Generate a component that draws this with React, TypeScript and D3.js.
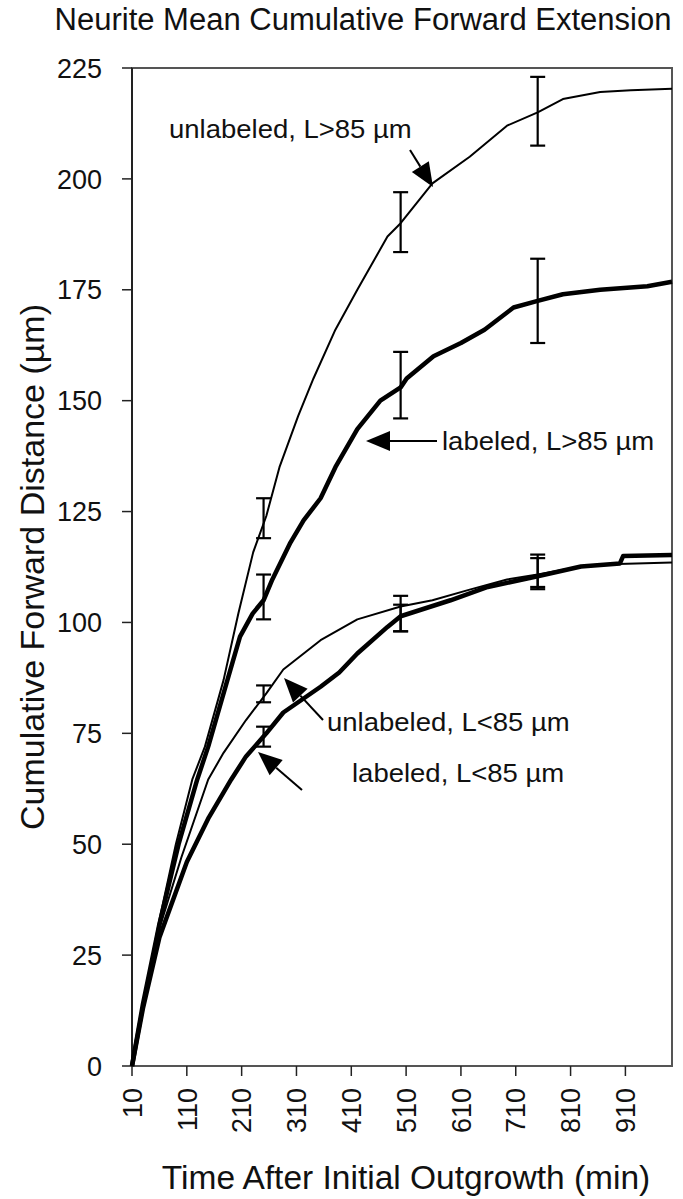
import React from 'react';
import * as d3 from 'd3';

type P = [number, number];

// Time (min), cumulative forward distance (µm)
const unlabeledLong: P[] = [
  [10, 0], [30, 14], [60, 33], [90, 50], [120, 64.6], [143, 72], [177, 87], [204, 102],
  [231, 115.8], [255, 124], [279, 135], [313, 146.5], [341, 155], [381, 166], [421, 175],
  [476, 187], [500, 190], [558, 199], [626, 205], [694, 212], [750, 215], [796, 218],
  [864, 219.6], [920, 220], [995, 220.3],
];
const labeledLong: P[] = [
  [10, 0], [30, 14], [60, 32], [95, 50], [129, 64.6], [149, 72], [184, 87], [207, 96.8],
  [230, 102], [250, 105], [266, 109.7], [299, 118], [323, 123], [354, 128], [381, 135],
  [421, 143.6], [463, 150], [500, 153], [511, 155], [560, 160], [610, 163], [653, 166],
  [706, 171], [750, 172.5], [796, 174], [864, 175], [950, 175.8], [995, 176.8],
];
const unlabeledShort: P[] = [
  [10, 0], [30, 14], [60, 31], [100, 47], [149, 64.6], [177, 70.6], [218, 78], [255, 84],
  [286, 89.4], [354, 96], [421, 100.7], [500, 103.6], [558, 105], [626, 107.4], [694, 109.7],
  [750, 110.8], [829, 112.6], [897, 113.2], [995, 113.5],
];
const labeledShort: P[] = [
  [10, 0], [30, 13], [60, 29], [110, 46], [150, 56], [191, 64.6], [218, 69.8], [255, 75],
  [286, 79.7], [354, 85.5], [388, 88.7], [421, 93], [476, 99], [500, 101.4], [591, 105],
  [659, 108], [750, 110.4], [829, 112.6], [900, 113.3], [906, 115], [995, 115.2],
];

// error bars: [time, low, high]
const unlabeledLongErr: [number, number, number][] = [[250, 119, 128], [500, 183.5, 197], [750, 207.5, 223]];
const labeledLongErr: [number, number, number][] = [[250, 100.7, 110.8], [500, 146, 161], [750, 163, 182]];
const unlabeledShortErr: [number, number, number][] = [[250, 82, 85.8], [500, 98, 106], [750, 108, 115.3]];
const labeledShortErr: [number, number, number][] = [[250, 72, 76.5], [500, 98, 104], [750, 107.5, 114.5]];

const xTicks = [10, 110, 210, 310, 410, 510, 610, 710, 810, 910];
const yTicks = [0, 25, 50, 75, 100, 125, 150, 175, 200, 225];

const title = 'Neurite Mean Cumulative Forward Extension';
const xTitle = 'Time After Initial Outgrowth (min)';
const yTitle = 'Cumulative Forward Distance (\u00b5m)';

const FONT = '"Liberation Sans", Arial, Helvetica, sans-serif';

function Arrow({ tail, tip }: { tail: P; tip: P }) {
  const dx = tip[0] - tail[0];
  const dy = tip[1] - tail[1];
  const len = Math.hypot(dx, dy);
  const ux = dx / len, uy = dy / len;
  const hl = 24, hw = 10;
  const bx = tip[0] - ux * hl, by = tip[1] - uy * hl;
  const px = -uy, py = ux;
  const pts = [
    [tip[0], tip[1]],
    [bx + px * hw, by + py * hw],
    [bx - px * hw, by - py * hw],
  ].map((p) => p.join(',')).join(' ');
  return (
    <g>
      <line x1={tail[0]} y1={tail[1]} x2={bx} y2={by} stroke="#000" strokeWidth={2} />
      <polygon points={pts} fill="#000" />
    </g>
  );
}

export default function App() {
  const W = 683, H = 1199;
  const x = d3.scaleLinear().domain([10, 995]).range([132, 672]);
  const y = d3.scaleLinear().domain([0, 225]).range([1066, 68]);
  const line = d3.line<P>().x((d) => x(d[0])).y((d) => y(d[1]));

  const series = [
    { data: unlabeledLong, err: unlabeledLongErr, w: 2 },
    { data: labeledLong, err: labeledLongErr, w: 4.5 },
    { data: unlabeledShort, err: unlabeledShortErr, w: 2 },
    { data: labeledShort, err: labeledShortErr, w: 4.5 },
  ];

  const annos = [
    { text: 'unlabeled, L>85 \u00b5m', tx: 169, ty: 138, tail: [410, 150] as P, tip: [433, 187] as P },
    { text: 'labeled, L>85 \u00b5m', tx: 442, ty: 450, tail: [437, 441] as P, tip: [366, 441] as P },
    { text: 'unlabeled, L<85 \u00b5m', tx: 327, ty: 731, tail: [323, 720] as P, tip: [284, 678] as P },
    { text: 'labeled, L<85 \u00b5m', tx: 352, ty: 782, tail: [302, 790] as P, tip: [258, 752] as P },
  ];

  const [x0, x1] = x.range();
  const [y0, y1] = y.range();

  return (
    <svg width={W} height={H} viewBox={`0 0 ${W} ${H}`}
      style={{ position: 'absolute', left: 0, top: 0, background: '#fff' }}
      fontFamily={FONT}>
      <rect x={0} y={0} width={W} height={H} fill="#fff" />
      {/* title */}
      <text x={363} y={30} fontSize={31} textAnchor="middle" fill="#111">{title}</text>

      {/* frame */}
      <rect x={x0} y={y1} width={x1 - x0} height={y0 - y1} fill="none" stroke="#555" strokeWidth={2} />
      <line x1={x0} y1={y1} x2={x0} y2={y0} stroke="#222" strokeWidth={2} />

      {/* y ticks */}
      {yTicks.map((t) => (
        <g key={'y' + t}>
          <line x1={x0 - 10} x2={x0} y1={y(t)} y2={y(t)} stroke="#222" strokeWidth={1.5} />
          <text x={x0 - 30} y={y(t)} dy="0.36em" fontSize={27} textAnchor="end" fill="#111">{t}</text>
        </g>
      ))}
      {/* x ticks */}
      {xTicks.map((t) => (
        <g key={'x' + t}>
          <line x1={x(t)} x2={x(t)} y1={y0} y2={y0 + 10} stroke="#222" strokeWidth={1.5} />
          <text transform={`translate(${x(t)},${y0 + 22}) rotate(-90)`} dy="0.36em" fontSize={27}
            textAnchor="end" fill="#111">{t}</text>
        </g>
      ))}

      {/* axis titles */}
      <text x={406} y={1189} fontSize={33.5} textAnchor="middle" fill="#111">{xTitle}</text>
      <text transform={`translate(44,${(y0 + y1) / 2}) rotate(-90)`} fontSize={34} textAnchor="middle" fill="#111">{yTitle}</text>

      {/* series */}
      {series.map((s, i) => (
        <g key={'s' + i}>
          <path d={line(s.data) || ''} fill="none" stroke="#000" strokeWidth={s.w} strokeLinejoin="round" />
          {s.err.map(([t, lo, hi], j) => (
            <g key={j} stroke="#000" strokeWidth={2.2}>
              <line x1={x(t)} x2={x(t)} y1={y(lo)} y2={y(hi)} />
              <line x1={x(t) - 7.5} x2={x(t) + 7.5} y1={y(lo)} y2={y(lo)} />
              <line x1={x(t) - 7.5} x2={x(t) + 7.5} y1={y(hi)} y2={y(hi)} />
            </g>
          ))}
        </g>
      ))}

      {/* annotations */}
      {annos.map((a, i) => (
        <g key={'a' + i}>
          <Arrow tail={a.tail} tip={a.tip} />
          <text transform={`translate(${a.tx},${a.ty}) scale(1.1,1)`} fontSize={25} fill="#111">{a.text}</text>
        </g>
      ))}
    </svg>
  );
}
